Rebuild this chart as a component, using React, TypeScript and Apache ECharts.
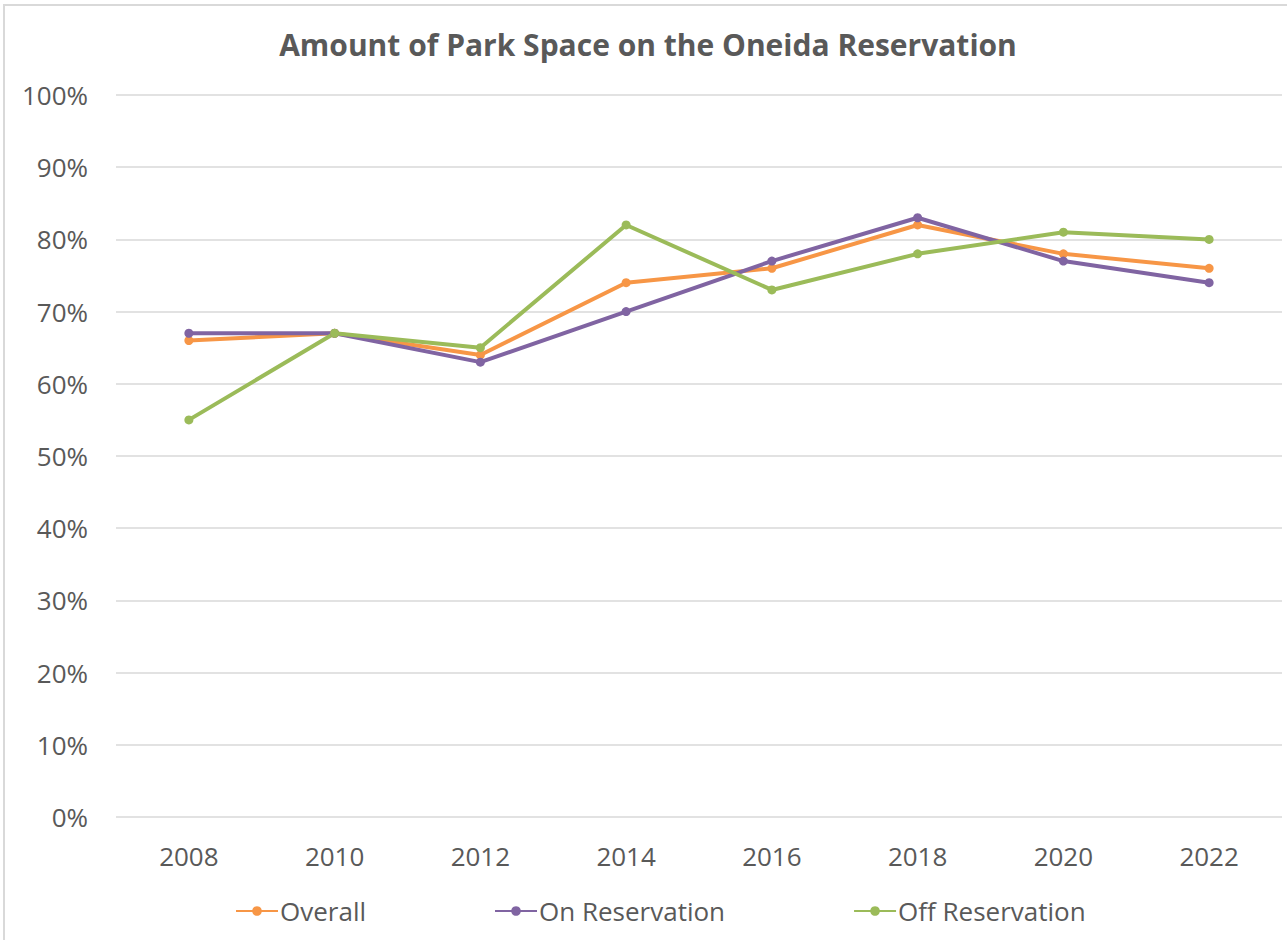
import React, { useEffect, useRef } from "react";
import * as echarts from "echarts";

const years = ["2008", "2010", "2012", "2014", "2016", "2018", "2020", "2022"];
const overall = [66, 67, 64, 74, 76, 82, 78, 76];
const onReservation = [67, 67, 63, 70, 77, 83, 77, 74];
const offReservation = [55, 67, 65, 82, 73, 78, 81, 80];

const FONT = "'Open Sans', 'Noto Sans', sans-serif";
const TEXT = "#595959";

export default function App() {
  const ref = useRef<HTMLDivElement>(null);
  useEffect(() => {
    const chart = echarts.init(ref.current!, undefined, { renderer: "svg" });
    const mk = (name: string, data: number[], color: string) => ({
      name,
      type: "line",
      data,
      symbol: "circle",
      symbolSize: 9,
      itemStyle: { color },
      lineStyle: { color, width: 4 },
    });
    chart.setOption({
      animation: false,
      backgroundColor: "#ffffff",
      textStyle: { fontFamily: FONT },
      title: {
        text: "Amount of Park Space on the Oneida Reservation",
        left: "center",
        top: 18,
        textStyle: { fontFamily: FONT, fontSize: 30, fontWeight: "bold", color: TEXT },
      },
      grid: { left: 111, right: 9, top: 89, bottom: 125, containLabel: false },
      xAxis: {
        type: "category",
        data: years,
        boundaryGap: true,
        axisLine: { show: false },
        axisTick: { show: false },
        axisLabel: { color: TEXT, fontSize: 26, margin: 26, fontFamily: FONT },
      },
      yAxis: {
        type: "value",
        min: 0,
        max: 100,
        interval: 10,
        axisLine: { show: false },
        axisTick: { show: false },
        axisLabel: { color: TEXT, fontSize: 26, margin: 28, formatter: "{value}%", fontFamily: FONT },
        splitLine: { lineStyle: { color: "#d9d9d9", width: 1.5 } },
      },
      legend: {
        top: 887,
        left: 225,
        itemGap: 128,
        itemWidth: 42,
        itemHeight: 12,
        textStyle: { color: TEXT, fontSize: 26, fontFamily: FONT, padding: [0, 0, 0, -3] },
        data: ["Overall", "On Reservation", "Off Reservation"],
      },
      series: [
        mk("Overall", overall, "#F79646"),
        mk("On Reservation", onReservation, "#8064A2"),
        mk("Off Reservation", offReservation, "#9BBB59"),
      ],
    });
    return () => chart.dispose();
  }, []);
  return (
    <div
      style={{
        position: "fixed",
        left: 0,
        top: 0,
        width: 1287,
        height: 940,
        background: "#fff",
      }}
    >
      <div
        ref={ref}
        style={{
          position: "absolute",
          left: 3,
          top: 4,
          width: 1290,
          height: 940,
          border: "2px solid #d9d9d9",
          boxSizing: "border-box",
        }}
      />
    </div>
  );
}
